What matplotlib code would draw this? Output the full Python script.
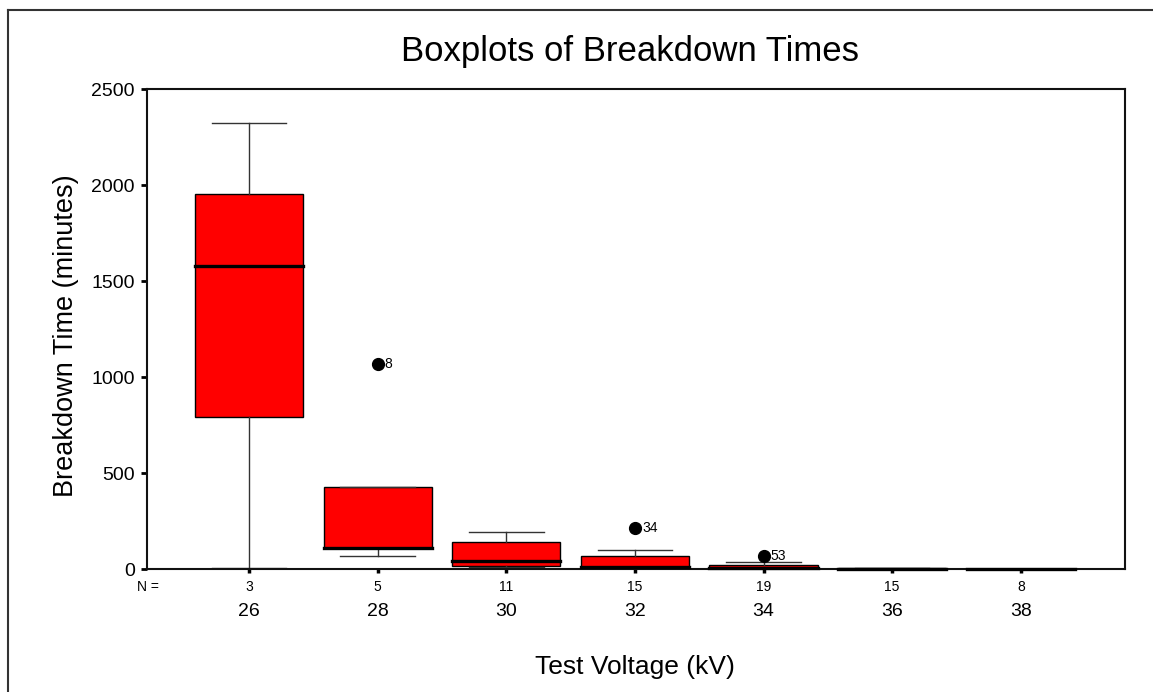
import matplotlib
matplotlib.use("Agg")
import matplotlib.pyplot as plt
from matplotlib.lines import Line2D
from matplotlib.transforms import blended_transform_factory

plt.rcParams['font.family'] = ['Liberation Sans', 'DejaVu Sans']

# ---- data ----
voltages = ["26", "28", "30", "32", "34", "36", "38"]
n_counts = ["3", "5", "11", "15", "19", "15", "8"]
whisker_low = [5.8, 68.9, 8.0, 0.3, 0.2, 0.35, 0.1]
quart1 = [792.0, 108.3, 18.0, 1.8, 3.0, 1.3, 0.45]
medians = [1580.0, 110.3, 40.0, 12.0, 6.5, 2.6, 0.75]
quart3 = [1952.0, 426.0, 140.0, 66.0, 20.0, 3.8, 1.3]
whisker_high = [2324.0, 426.0, 194.0, 100.0, 35.0, 5.4, 2.4]
outliers = [[], [1067.6], [], [212.0], [70.0], [], []]
outlier_labels = [[], ["8"], [], ["34"], ["53"], [], []]
y_ticks = [0, 500, 1000, 1500, 2000, 2500]

W, H = 1153, 692
fig = plt.figure(figsize=(W / 100, H / 100), dpi=100)
ax = fig.add_axes([147.3 / W, (H - 569) / H, (1125 - 147.3) / W, (569 - 89.3) / H])

positions = list(range(len(voltages)))
stats = []
for i in positions:
    stats.append(dict(whislo=whisker_low[i], q1=quart1[i], med=medians[i],
                      q3=quart3[i], whishi=whisker_high[i], fliers=outliers[i]))

res = ax.bxp(stats, positions=positions, widths=0.84, capwidths=0.58,
             patch_artist=True, showfliers=True,
             boxprops=dict(facecolor='#ff0000', edgecolor='black', linewidth=1.0),
             medianprops=dict(color='black', linewidth=2.4, solid_capstyle='projecting'),
             whiskerprops=dict(color='#333333', linewidth=1.0),
             capprops=dict(color='#333333', linewidth=1.0),
             flierprops=dict(marker='o', markerfacecolor='black', markeredgecolor='black',
                             markersize=8.5, linestyle='none'))
for m in res['medians']:
    m.set_clip_on(False)
    m.set_zorder(3)

for i in positions:
    for val, lab in zip(outliers[i], outlier_labels[i]):
        ax.annotate(lab, (i, val), xytext=(5.2, 0), textcoords='offset points',
                    ha='left', va='center', fontsize=10)

ax.set_xlim(-0.79, 6.81)
ax.set_ylim(0, 2500)
ax.set_yticks(y_ticks)
ax.set_yticklabels([str(t) for t in y_ticks], fontsize=14)
ax.tick_params(axis='y', direction='out', length=4, width=2, pad=5)
ax.set_xticks(positions)
ax.set_xticklabels([''] * len(positions))
ax.tick_params(axis='x', direction='out', length=3, width=2.5)

for sp in ax.spines.values():
    sp.set_linewidth(1.5)
    sp.set_color('#111111')

trans = blended_transform_factory(ax.transData, fig.transFigure)
for i in positions:
    ax.text(i, 1 - 587 / H, n_counts[i], transform=trans, ha='center', va='center',
            fontsize=10)
    ax.text(i, 1 - 612 / H, voltages[i], transform=trans, ha='center', va='center',
            fontsize=14)
fig.text(148 / W, 1 - 587 / H, "N =", ha='center', va='center', fontsize=10)

fig.text(66 / W, 1 - 336 / H, "Breakdown Time (minutes)", rotation=90,
         ha='center', va='center', fontsize=19.5)
fig.text(635 / W, 1 - 667 / H, "Test Voltage (kV)", ha='center',
         va='center', fontsize=19)
fig.text(630 / W, 1 - 51 / H, "Boxplots of Breakdown Times", ha='center',
         va='center', fontsize=25)

# outer frame
fig.add_artist(Line2D([8 / W, 8 / W], [0, 1 - 10 / H], transform=fig.transFigure,
                      color='#333333', linewidth=1.5))
fig.add_artist(Line2D([8 / W, 1], [1 - 10 / H, 1 - 10 / H], transform=fig.transFigure,
                      color='#333333', linewidth=1.5))

fig.savefig("out.png", dpi=100)
